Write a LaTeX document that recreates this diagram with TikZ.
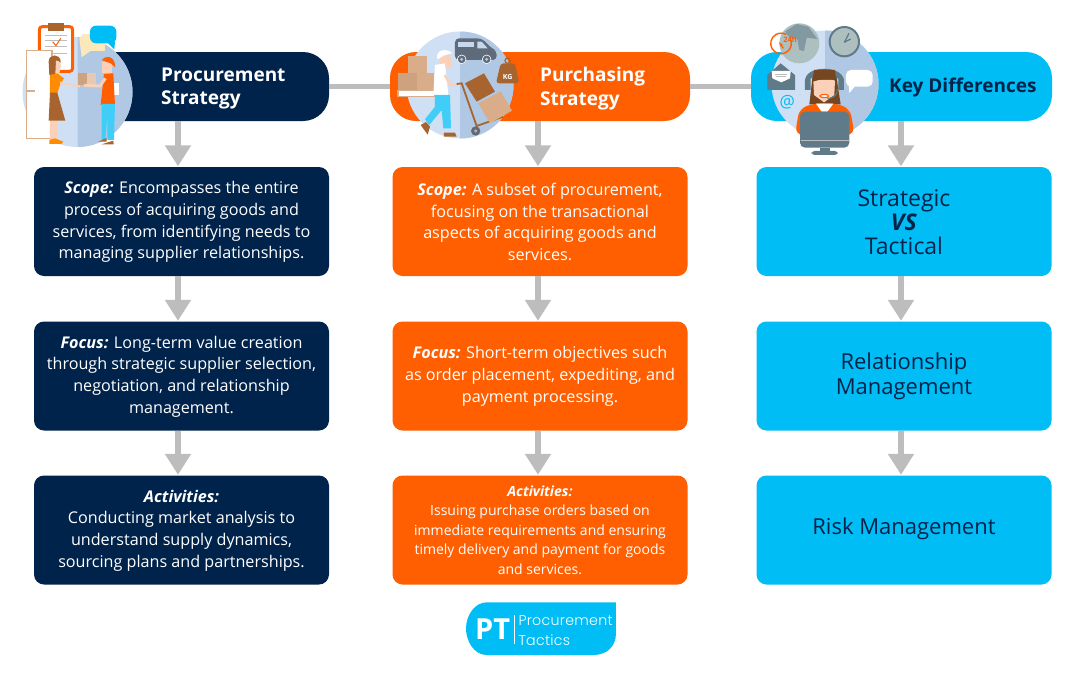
\documentclass[tikz,border=0pt]{standalone}
\usepackage{fontspec}
\usetikzlibrary{arrows.meta,calc}
\setmainfont{Open Sans}
\newfontfamily\logofont[LetterSpace=2]{Poppins Light}
\definecolor{navy}{HTML}{00234B}
\definecolor{orng}{HTML}{FF5F00}
\definecolor{cyn}{HTML}{00BEF5}
\definecolor{gry}{HTML}{BDBDBD}
\definecolor{circL}{HTML}{CFE0F5}
\definecolor{circR}{HTML}{B0C8E4}
\definecolor{skin}{HTML}{FAD0B8}
\definecolor{tan}{HTML}{CDA27F}
\definecolor{tanL}{HTML}{D9AC8A}
\definecolor{brn}{HTML}{A8642F}
\definecolor{slate}{HTML}{5F7A88}
\definecolor{vang}{HTML}{5F6B7A}
\definecolor{globe}{HTML}{AEBFBF}
\definecolor{blu}{HTML}{2FB7E6}
\tikzset{
 x=1pt,y=-1pt,
 pill/.style={rounded corners=26pt,minimum height=69pt,inner sep=0pt},
 card/.style={rounded corners=10pt,minimum width=295pt,minimum height=109pt,inner sep=0pt,align=center},
 headtxt/.style={font=\fontsize{19}{23.5}\selectfont\bfseries,align=left,text=white,inner sep=0pt,anchor=west},
 bodytxt/.style={text=white,font=\fontsize{16.15}{21.8}\selectfont},
 smalltxt/.style={text=white,font=\fontsize{14}{19.6}\selectfont},
 bigtxt/.style={text=navy,font=\fontsize{22}{25}\selectfont},
 bigger/.style={text=navy,font=\fontsize{23}{24}\selectfont},
 link/.style={draw=gry,line width=5pt},
 flow/.style={draw=gry,line width=6pt,-{Triangle[width=25pt,length=21pt]},shorten >=0pt},
 z1/.style={shift={(0,10)},x=0.3333pt,y=-0.3333pt},
 z2/.style={shift={(380,20)},x=0.3333pt,y=-0.3333pt},
 z3/.style={shift={(740,15)},x=0.3333pt,y=-0.3333pt},
 z4/.style={shift={(450,590)},x=0.3333pt,y=-0.3333pt},
}
\newcommand{\halves}[3]{%
 \fill[circL] (#1,#2) circle[radius=#3];
 \begin{scope}\clip (#1,#2-#3-1) rectangle (#1+#3+1,#2+#3+1);
 \fill[circR] (#1,#2) circle[radius=#3];\end{scope}}
\begin{document}
\begin{tikzpicture}
\useasboundingbox (0,0) rectangle (1080,675);
\fill[white] (0,0) rectangle (1080,675);
\coordinate (a1) at (178,0);
\coordinate (a2) at (538,0);
\coordinate (a3) at (901,0);
% headers
\node[pill,fill=navy,minimum width=250pt] (h1) at (204,86.5) {};
\node[pill,fill=orng,minimum width=300pt] (h2) at (540,86.5) {};
\node[pill,fill=cyn,minimum width=301pt] (h3) at (901.5,86.5) {};
% cards
\node[card,fill=navy] (b1) at (181.5,221.5) {};
\node[card,fill=navy] (c1) at (181.5,376) {};
\node[card,fill=navy] (d1) at (181.5,530) {};
\node[card,fill=orng] (b2) at (540,221.5) {};
\node[card,fill=orng] (c2) at (540,376) {};
\node[card,fill=orng] (d2) at (540,530) {};
\node[card,fill=cyn] (b3) at (904,221.5) {};
\node[card,fill=cyn] (c3) at (904,376) {};
\node[card,fill=cyn] (d3) at (904,530) {};
% connectors
\draw[link] (h1.east) -- (h2.west);
\draw[link] (h2.east) -- (h3.west);
\foreach \c in {1,2,3}{
 \draw[flow] (a\c |- h\c.south) -- ($(a\c |- b\c.north)+(0,-0.5)$);
 \draw[flow] (a\c |- b\c.south) -- ($(a\c |- c\c.north)+(0,-0.5)$);
 \draw[flow] (a\c |- c\c.south) -- ($(a\c |- d\c.north)+(0,-0.5)$);
}
% texts
\node[headtxt] (t1) at (161,88.5) {Procurement\\Strategy};
\node[headtxt] (t2) at (540,88.5) {Purchasing\\Strategy};
\node[headtxt,text=navy] (t3) at (889,88) {Key Differences};
\node[bodytxt,align=center] (x1) at ($(b1.center)+(0,0.5)$) {\textbf{\textit{Scope:}} Encompasses the entire\\process of acquiring goods and\\services, from identifying needs to\\managing supplier relationships.};
\node[bodytxt,align=center] (x2) at ($(c1.center)+(0,0.5)$) {\textbf{\textit{Focus:}} Long-term value creation\\through strategic supplier selection,\\negotiation, and relationship\\management.};
\node[bodytxt,align=center] (x3) at ($(d1.center)+(0,0.5)$) {\textbf{\textit{Activities:}}\\Conducting market analysis to\\understand supply dynamics,\\sourcing plans and partnerships.};
\node[bodytxt,align=center] (x4) at ($(b2.center)+(0,0.5)$) {\textbf{\textit{Scope:}} A subset of procurement,\\focusing on the transactional\\aspects of acquiring goods and\\services.};
\node[bodytxt,align=center] (x5) at ($(c2.center)+(0,0.5)$) {\textbf{\textit{Focus:}} Short-term objectives such\\as order placement, expediting, and\\payment processing.};
\node[smalltxt,align=center] (x6) at ($(d2.center)+(0,0)$) {\textbf{\textit{Activities:}}\\Issuing purchase orders based on\\immediate requirements and ensuring\\timely delivery and payment for goods\\and services.};
\node[bigger,align=center] (x7) at ($(b3.center)+(0,0.5)$) {Strategic\\\textbf{\textit{VS}}\\Tactical};
\node[bigtxt,align=center] (x8) at (c3.center) {Relationship\\Management};
\node[bigtxt,align=center] (x9) at ($(d3.center)+(0,-1)$) {Risk Management};
% icon 1
\halves{77.5}{92}{55}
\begin{scope}[z1]
 \draw[orng,fill=white,line width=3pt,rounded corners=3pt] (118,50) rectangle (218,184);
 \fill[brn] (143,38) rectangle (192,62);
 \draw[gry,line width=.8pt] (135,75)--(200,75) (135,92)--(200,92) (135,110)--(200,110) (135,130)--(200,130);
 \draw[orng,line width=1pt] (158,95)--(168,107)--(182,85);
 \draw[tanL,fill=white,line width=1.5pt] (80,122) rectangle (156,386);
 \fill[tanL] (80,239) rectangle (104,245);
 \fill[yellow!35!orange!25!white] (250,72) rectangle (316,124);
 \fill[yellow!35!orange!25!white] (238,84)--(250,72)--(270,124)--(245,142)--cycle;
 \fill[cyn,rounded corners=6pt] (270,47) rectangle (349,100);
 \fill[cyn] (320,95)--(345,95)--(343,118)--cycle;
 % woman
 \fill[brn] (146,155) .. controls (146,130) and (182,130) .. (182,155) -- (168,195) -- (148,195) -- cycle;
 \fill[skin] (168,152) .. controls (178,150) and (184,160) .. (182,172) -- (178,190) -- (166,192) -- cycle;
 \fill[skin] (150,330) rectangle (162,392) (162,330) rectangle (172,388);
 \fill[orange!90!yellow] (150,195) -- (172,190) -- (192,205) -- (180,225) -- (172,250) -- (150,250) -- cycle;
 \draw[skin,line width=2pt] (180,218)--(240,230);
 \fill[brn] (150,248)--(172,248)--(196,332)--(146,332)--cycle;
 \fill[orange!90!yellow] (148,390)--(165,385)--(190,395)--(185,402)--(148,402)--cycle;
 % box
 \fill[tan] (233,188) rectangle (288,225);
 \fill[tanL!60!white!90!tan] (262,188) rectangle (288,225);
 % man
 \fill[skin] (305,155) rectangle (335,190);
 \fill[orng] (305,150) .. controls (315,135) and (345,135) .. (346,172) -- (332,160) -- cycle;
 \fill[white] (343,220) rectangle (357,255);
 \fill[orng] (312,192)--(340,190)--(345,285)--(302,285)--cycle;
 \draw[skin,line width=3pt] (316,205)--(300,228)--(252,226);
 \fill[cyn!75!white] (305,282)--(345,282)--(342,390)--(322,390)--(322,320)--(316,390)--(305,390)--cycle;
 \fill[brn] (295,395)--(320,384)--(320,395)--cycle (305,403)--(340,392)--(341,403)--cycle;
\end{scope}
% icon 2
\halves{460}{85}{53.5}
\begin{scope}[z2]
 \fill[vang,rounded corners=4pt] (225,55)--(305,55)--(335,85)--(350,92)--(350,120)--(225,120)--cycle;
 \fill[circR!70!white] (235,65) rectangle (282,82);
 \fill[circR!70!white] (292,65)--(305,65)--(323,85)--(292,85)--cycle;
 \fill[vang,draw=white,line width=.6pt] (245,118) circle[radius=13];
 \fill[circR] (245,118) circle[radius=5];
 \fill[vang,draw=white,line width=.6pt] (320,118) circle[radius=13];
 \fill[circR] (320,118) circle[radius=5];
 \draw[brn,line width=1.2pt] (383,122) circle[radius=8];
 \fill[brn,rounded corners=3pt] (362,130)--(405,130)--(418,190)--(348,190)--cycle;
 \node[text=white,font=\fontsize{7}{8}\selectfont\bfseries,inner sep=0pt] (kg) at (383,172) {KG};
 % stacked boxes
 \fill[tanL] (85,108) rectangle (140,158);
 \fill[tan] (55,158) rectangle (110,210);
 \fill[tanL] (112,158) rectangle (162,210);
 \draw[tanL,fill=white,line width=1.2pt] (54,211) rectangle (165,229);
 % man
 \fill[skin] (180,105) rectangle (212,140);
 \fill[white] (172,118) .. controls (165,85) and (205,85) .. (216,100) -- (195,105) -- cycle;
 \fill[white] (165,135)--(195,130)--(205,225)--(160,225)--cycle;
 \draw[skin,line width=2.6pt] (195,165)--(210,195)--(236,192);
 \fill[cyn!75!white] (165,225)--(210,225)--(213,325)--(190,325)--(185,270)--(148,315)--(135,298)--(165,260)--cycle;
 \fill[brn] (122,315)--(138,306)--(150,320)--(143,344)--cycle (192,338)--(225,338)--(230,350)--(192,350)--cycle;
 % truck
 \draw[brn,line width=1.8pt] (230,192)--(245,190)--(290,318)--(370,290);
 \fill[brn] (255,190)--(312,160)--(345,215)--(290,245)--cycle;
 \fill[tanL] (295,250)--(362,214)--(396,272)--(330,310)--cycle;
 \fill[vang] (287,333) circle[radius=14];
 \fill[tanL] (287,333) circle[radius=5];
\end{scope}
% icon 3
\halves{825}{84}{53.5}
\begin{scope}[z3]
 \fill[globe] (178,85) circle[radius=60];
 \fill[slate!55!globe] (135,50)--(170,27)--(205,35)--(232,72)--(200,68)--(192,108)--(178,105)--(172,72)--(150,70)--cycle;
 \draw[orng,line width=1.4pt] (150,70) arc[start angle=-30,end angle=300,radius=31];
 \draw[orng,line width=1.3pt,-{Stealth[length=4pt]}] (130,100)--(118,82);
 \node[text=orng,font=\fontsize{7.5}{8}\selectfont\bfseries,inner sep=0pt] (tf) at (150,73) {24h};
 \draw[slate,fill=globe,line width=2pt] (313,80) circle[radius=44];
 \draw[slate,line width=1.2pt] (313,82)--(327,55) (313,82)--(332,72);
 \fill[slate] (82,180)--(122,145)--(165,180)--(165,225)--(82,225)--cycle;
 \fill[white] (95,168)--(152,168)--(150,190)--(124,202)--(97,190)--cycle;
 \draw[gry,line width=.6pt] (105,177)--(142,177) (108,184)--(138,184);
 \node[text=cyn,font=\fontsize{17}{18}\selectfont,inner sep=0pt] (at) at (142,262) {@};
 \fill[white,rounded corners=5pt] (318,165) rectangle (398,215);
 \fill[white] (326,205)--(352,205)--(328,234)--cycle;
 % agent
 \fill[slate] (195,195) .. controls (200,150) and (305,150) .. (312,195) -- (312,225) -- (295,225) -- (295,190) -- (212,190) -- (212,225) -- (195,225) -- cycle;
 \fill[brn!70!black] (217,190) .. controls (220,155) and (285,155) .. (290,190) -- (302,268) -- (208,268) -- cycle;
 \fill[skin] (220,195) -- (285,195) -- (283,240) -- (252,262) -- (222,240) -- cycle;
 \fill[brn!70!black] (218,200) .. controls (240,195) and (270,180) .. (288,200) -- (285,165) -- (222,165) -- cycle;
 \draw[orng,line width=1.1pt,fill=white] (253,243) ellipse[x radius=13,y radius=5];
 \draw[slate,line width=1.1pt] (292,222) .. controls (292,245) and (275,250) .. (262,250);
 \fill[orng,rounded corners=8pt] (165,360)--(178,280)--(228,264)--(280,264)--(330,280)--(344,360)--cycle;
 \fill[white] (228,266)--(280,266)--(262,290)--(245,290)--cycle;
 \fill[slate,rounded corners=5pt] (180,290) rectangle (328,398);
 \draw[gry,line width=.6pt] (182,375)--(326,375);
 \fill[slate] (240,398) rectangle (270,408);
 \fill[slate,rounded corners=3pt] (215,408) rectangle (293,420);
\end{scope}
% logo
\begin{scope}[z4]
 \fill[cyn] (110,37)--(498,37)--(498,130) .. controls (498,170) and (470,195) .. (430,195) -- (110,195) .. controls (70,195) and (48,150) .. (48,116) .. controls (48,75) and (75,37) .. (110,37) -- cycle;
 \node[text=white,font=\fontsize{29}{30}\selectfont\bfseries,inner sep=0pt] (pt) at (128,118) {PT};
 \draw[white,line width=.5pt] (192,75)--(192,162);
 \node[text=white,font=\logofont\fontsize{14.2}{15}\selectfont,inner sep=0pt,anchor=west] (lg1) at (205,93) {Procurement};
 \node[text=white,font=\logofont\fontsize{14.2}{15}\selectfont,inner sep=0pt,anchor=west] (lg2) at (205,150) {Tactics};
\end{scope}
\end{tikzpicture}
\end{document}
